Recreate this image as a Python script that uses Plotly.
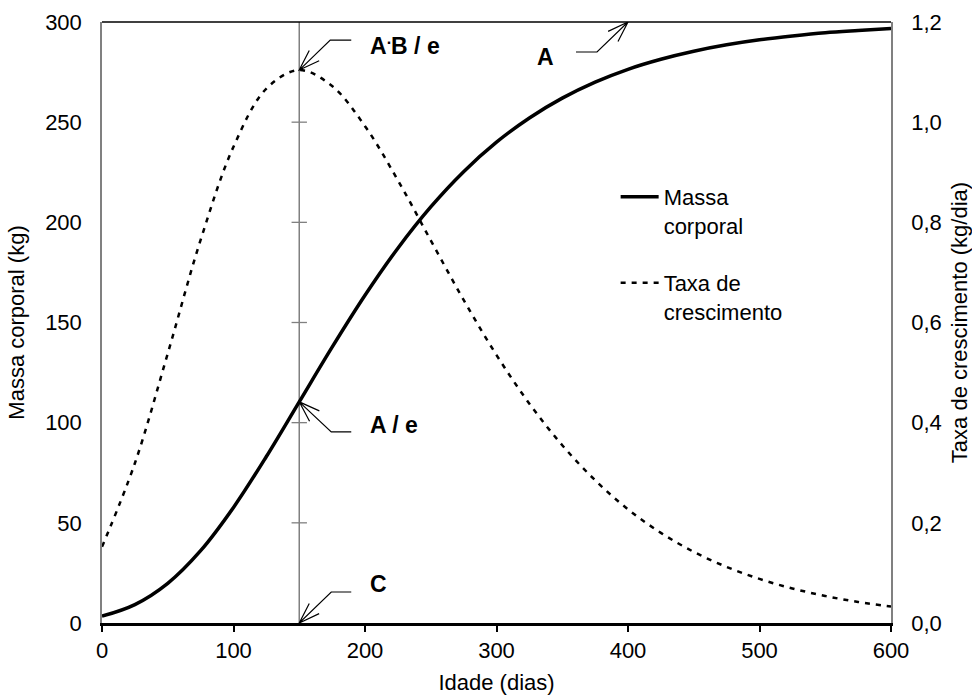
import math
import plotly.graph_objects as go

# Idade (dias), massa corporal (kg) e taxa de crescimento (kg/dia)
dias = [0, 25, 50, 75, 100, 125, 150, 175, 200, 225, 250, 275, 300,
        325, 350, 375, 400, 425, 450, 475, 500, 525, 550, 575, 600]
massa = [3.4, 9.2, 19.8, 36.1, 57.7, 83.1, 110.4, 137.7, 163.6, 187.1, 207.7, 225.3, 240.0,
         252.1, 262.0, 270.0, 276.4, 281.4, 285.4, 288.6, 291.1, 293.0, 294.6, 295.7, 296.7]
taxa = [0.152, 0.319, 0.538, 0.765, 0.951, 1.067, 1.104, 1.072, 0.992, 0.884, 0.764, 0.645, 0.535,
        0.438, 0.355, 0.285, 0.227, 0.180, 0.142, 0.112, 0.088, 0.069, 0.054, 0.042, 0.033]

# Parametros de referencia da curva
A = 300           # massa assintotica (kg)
t_inflexao = 150  # idade no ponto de inflexao (dias)
marcas_y = [50, 100, 150, 200, 250]

x_ticks = [0, 100, 200, 300, 400, 500, 600]
y_ticks = [0, 50, 100, 150, 200, 250, 300]
y2_ticks = [0.0, 0.2, 0.4, 0.6, 0.8, 1.0, 1.2]

FONT = "Liberation Sans, Arial, sans-serif"
GRAY = "#808080"

fig = go.Figure()

# Linha vertical no ponto de inflexao, com marcas em cruz
fig.add_trace(go.Scatter(
    x=[t_inflexao, t_inflexao], y=[0, A], mode="lines",
    line=dict(color=GRAY, width=1.5), showlegend=False, hoverinfo="skip"))
fig.add_trace(go.Scatter(
    x=[t_inflexao] * len(marcas_y), y=marcas_y, mode="markers",
    marker=dict(symbol="line-ew-open", size=11, color=GRAY, line=dict(color=GRAY, width=1.3)),
    showlegend=False, hoverinfo="skip"))

fig.add_trace(go.Scatter(
    x=dias, y=massa, name="Massa<br>corporal", mode="lines",
    line=dict(color="black", width=3.5, shape="spline"),
    legendgroup="a"))
fig.add_trace(go.Scatter(
    x=dias, y=taxa, name="Taxa de<br>crescimento", mode="lines", yaxis="y2",
    line=dict(color="black", width=2.5, dash="5px,6px", shape="spline"),
    legendgroup="b"))


def seta(xa, ya, dx, dy, h, yref="y"):
    """Linha de chamada: seta aberta em (xa, ya), diagonal e traco horizontal (offsets em px, y para cima)."""
    ang = math.atan2(dy, dx)
    n = 22
    b1 = (n * math.cos(ang + 0.33), n * math.sin(ang + 0.33))
    b2 = (n * math.cos(ang - 0.33), n * math.sin(ang - 0.33))
    path = (f"M0,0 L{dx},{dy} L{dx + h},{dy} "
            f"M{b1[0]:.1f},{b1[1]:.1f} L0,0 L{b2[0]:.1f},{b2[1]:.1f}")
    fig.add_shape(type="path", xref="x", yref=yref, xsizemode="pixel", ysizemode="pixel",
                  xanchor=xa, yanchor=ya, path=path,
                  line=dict(color="black", width=1.2))


i_inf = dias.index(t_inflexao)
pico = max(taxa)

seta(t_inflexao, pico, 31, 30, 21, yref="y2")
seta(t_inflexao, massa[i_inf], 32, -30, 20)
seta(t_inflexao, 0, 32, 31, 20)
seta(400, A, -31, -30, -21)

ann_font = dict(family=FONT, size=23, color="black")
fig.add_annotation(x=t_inflexao, y=pico, yref="y2", text="<b>A<sup>.</sup>B / e</b>",
                   showarrow=False, xanchor="left", yanchor="middle", xshift=69, yshift=26,
                   font=ann_font)
fig.add_annotation(x=t_inflexao, y=massa[i_inf], text="<b>A / e</b>",
                   showarrow=False, xanchor="left", yanchor="middle", xshift=69, yshift=-23,
                   font=ann_font)
fig.add_annotation(x=t_inflexao, y=0, text="<b>C</b>",
                   showarrow=False, xanchor="left", yanchor="middle", xshift=69, yshift=39,
                   font=ann_font)
fig.add_annotation(x=400, y=A, text="<b>A</b>",
                   showarrow=False, xanchor="right", yanchor="middle", xshift=-72, yshift=-35,
                   font=ann_font)

# Borda superior da area do grafico
fig.add_shape(type="line", xref="paper", yref="paper", x0=0, x1=1, y0=1, y1=1,
              line=dict(color="black", width=1.5))

fig.update_layout(
    width=972, height=695,
    margin=dict(l=102, r=81, t=22, b=72),
    paper_bgcolor="white", plot_bgcolor="white",
    separators=",.",
    font=dict(family=FONT, size=22, color="black"),
    showlegend=True,
    legend=dict(x=0.651, y=0.744, xanchor="left", yanchor="top",
                font=dict(family=FONT, size=22, color="black"),
                bgcolor="rgba(0,0,0,0)", itemwidth=38, tracegroupgap=26,
                valign="top", traceorder="grouped"),
    xaxis=dict(range=[0, 600], tickvals=x_ticks, ticks="outside", ticklen=6, tickwidth=1.5,
               tickcolor="black", showline=True, linecolor="black", linewidth=2.5,
               showgrid=False, zeroline=False, automargin=False,
               title=dict(text="Idade (dias)", font=dict(size=22), standoff=16),
               tickfont=dict(size=22)),
    yaxis=dict(range=[0, 300], tickvals=y_ticks, ticks="", showline=True,
               linecolor=GRAY, linewidth=1.5, showgrid=False, zeroline=False, automargin=False,
               title=dict(text="Massa corporal (kg)", font=dict(size=22), standoff=14),
               tickfont=dict(size=22), ticklabelstandoff=14),
    yaxis2=dict(range=[0, 1.2], tickvals=y2_ticks, tickformat=".1f", overlaying="y",
                side="right", ticks="", showline=True, linecolor=GRAY, linewidth=1.5,
                showgrid=False, zeroline=False, automargin=False,
                title=dict(text="Taxa de crescimento (kg/dia)", font=dict(size=22), standoff=12),
                tickfont=dict(size=22), ticklabelstandoff=14),
)

fig.write_html("out.html")
